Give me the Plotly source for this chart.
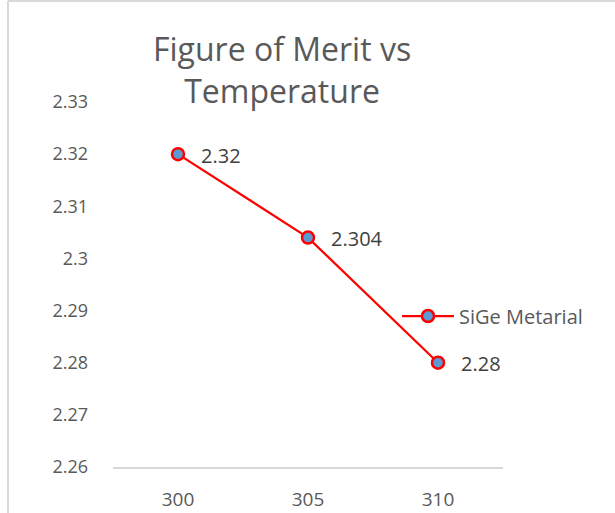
import plotly.graph_objects as go

# Figure of merit of the SiGe material at three temperatures
temperatures = ["300", "305", "310"]
figure_of_merit = [2.32, 2.304, 2.28]
y_ticks = [2.26, 2.27, 2.28, 2.29, 2.30, 2.31, 2.32, 2.33]
y_tick_text = ["2.26", "2.27", "2.28", "2.29", "2.3", "2.31", "2.32", "2.33"]
series_name = "SiGe Metarial"

TEXT = "#595959"
FONT = "Open Sans"
RED = "#FF0000"
BLUE = "#5B9BD5"

W, H = 615, 513
L, R, T, B = 113, 112, 102, 46
PW, PH = W - L - R, H - T - B


def px(x):
    return (x - L) / PW


def py(y):
    return (H - B - y) / PH


fig = go.Figure()
fig.add_trace(go.Scatter(
    x=temperatures,
    y=figure_of_merit,
    name=series_name,
    mode="lines+markers",
    line=dict(color=RED, width=2.25),
    marker=dict(size=12, color=BLUE, line=dict(color=RED, width=2.5)),
    cliponaxis=False,
    showlegend=False,
))

# value labels to the right of each point (category axis uses the index)
annotations = [
    dict(x=i, y=v, text=str(v), xref="x", yref="y",
         xanchor="left", yanchor="middle", xshift=21, yshift=-1,
         showarrow=False,
         font=dict(family=FONT, size=20, color="#404040"))
    for i, v in enumerate(figure_of_merit)
]

# chart title
annotations.append(dict(
    text="Figure of Merit vs<br>Temperature",
    xref="paper", yref="paper", x=px(282), y=py(70),
    xanchor="center", yanchor="middle", showarrow=False,
    font=dict(family=FONT, size=32, color=TEXT),
))

# legend entry text
annotations.append(dict(
    text=series_name, xref="paper", yref="paper",
    x=px(457), y=py(316), xanchor="left", yanchor="middle",
    showarrow=False, font=dict(family=FONT, size=20, color=TEXT),
))

shapes = [
    # chart frame (top and left edges)
    dict(type="line", xref="paper", yref="paper",
         x0=px(8), x1=px(620), y0=py(1), y1=py(1),
         line=dict(color="#D9D9D9", width=2)),
    dict(type="line", xref="paper", yref="paper",
         x0=px(8), x1=px(8), y0=py(1), y1=py(520),
         line=dict(color="#D9D9D9", width=2)),
    # legend symbol
    dict(type="line", xref="paper", yref="paper",
         x0=px(402), x1=px(454), y0=py(316), y1=py(316),
         line=dict(color=RED, width=2.25)),
    dict(type="circle", xref="paper", yref="paper",
         xsizemode="pixel", ysizemode="pixel",
         xanchor=px(428), yanchor=py(316),
         x0=-6, x1=6, y0=-6, y1=6,
         fillcolor=BLUE, line=dict(color=RED, width=2.5)),
]

fig.update_layout(
    width=W, height=H,
    margin=dict(l=L, r=R, t=T, b=B),
    paper_bgcolor="white", plot_bgcolor="white",
    font=dict(family=FONT, color=TEXT),
    showlegend=False,
    xaxis=dict(
        type="category",
        range=[-0.5, 2.5],
        automargin=False,
        showgrid=False, zeroline=False,
        showline=True, linecolor="#D9D9D9", linewidth=1.5,
        ticks="", ticklabelstandoff=14,
        tickfont=dict(family=FONT, size=19, color=TEXT),
    ),
    yaxis=dict(
        range=[2.26, 2.33],
        automargin=False,
        tickvals=y_ticks, ticktext=y_tick_text,
        showgrid=False, zeroline=False, showline=False,
        ticks="", ticklabelstandoff=24,
        tickfont=dict(family=FONT, size=18, color=TEXT),
    ),
    annotations=annotations,
    shapes=shapes,
)

fig.write_html("out.html")
